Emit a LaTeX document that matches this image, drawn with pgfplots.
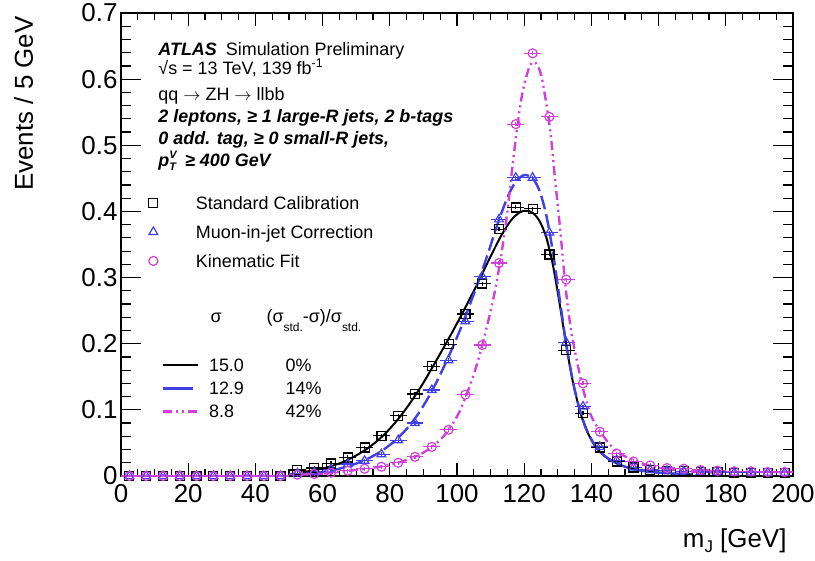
\documentclass[border=0pt]{standalone}
\usepackage{fontspec}
\setmainfont{Liberation Sans}
\usepackage{pgfplots}
\pgfplotsset{compat=1.18}
\definecolor{mblue}{rgb}{0.25,0.25,0.9}
\definecolor{mmag}{rgb}{0.82,0.25,0.85}
\pgfplotsset{
  markleg/.style={legend image code/.code={\draw[mark repeat=1,mark phase=1,##1] plot coordinates {(0bp,0bp)};}},
  lineleg/.style={legend image code/.code={\draw[##1] (0bp,0bp) -- (35bp,0bp);}},
}

\pgfplotstableread{
x y
2.5 0
7.5 0
12.5 0
17.5 0
22.5 0
27.5 0
32.5 0
37.5 0
42.5 0
47.5 0
52.5 0.009
57.5 0.012
62.5 0.019
67.5 0.028
72.5 0.043
77.5 0.061
82.5 0.091
87.5 0.124
92.5 0.166
97.5 0.199
102.5 0.245
107.5 0.291
112.5 0.373
117.5 0.406
122.5 0.404
127.5 0.335
132.5 0.190
137.5 0.095
142.5 0.043
147.5 0.022
152.5 0.013
157.5 0.009
162.5 0.008
167.5 0.007
172.5 0.006
177.5 0.006
182.5 0.005
187.5 0.005
192.5 0.005
197.5 0.005
}\stdtab

\pgfplotstableread{
x y
2.5 0
7.5 0
12.5 0
17.5 0
22.5 0
27.5 0
32.5 0
37.5 0
42.5 0
47.5 0
52.5 0.004
57.5 0.006
62.5 0.010
67.5 0.018
72.5 0.023
77.5 0.033
82.5 0.054
87.5 0.080
92.5 0.130
97.5 0.175
102.5 0.234
107.5 0.302
112.5 0.388
117.5 0.451
122.5 0.451
127.5 0.368
132.5 0.202
137.5 0.105
142.5 0.044
147.5 0.024
152.5 0.013
157.5 0.009
162.5 0.008
167.5 0.007
172.5 0.006
177.5 0.006
182.5 0.005
187.5 0.005
192.5 0.005
197.5 0.005
}\muontab

\pgfplotstableread{
x y
2.5 0
7.5 0
12.5 0
17.5 0
22.5 0
27.5 0
32.5 0
37.5 0
42.5 0
47.5 0
52.5 0.002
57.5 0.003
62.5 0.005
67.5 0.008
72.5 0.011
77.5 0.014
82.5 0.020
87.5 0.029
92.5 0.044
97.5 0.070
102.5 0.123
107.5 0.198
112.5 0.322
117.5 0.532
122.5 0.639
127.5 0.543
132.5 0.297
137.5 0.140
142.5 0.067
147.5 0.034
152.5 0.022
157.5 0.016
162.5 0.012
167.5 0.011
172.5 0.009
177.5 0.008
182.5 0.007
187.5 0.007
192.5 0.006
197.5 0.006
}\kintab

\begin{document}
\begin{tikzpicture}
\useasboundingbox (-121bp,-85bp) rectangle (694bp,476bp);
\begin{axis}[
  scale only axis, width=672bp, height=463bp,
  xmin=0, xmax=200, ymin=0, ymax=0.7,
  xtick={0,20,40,60,80,100,120,140,160,180,200},
  ytick={0,0.1,0.2,0.3,0.4,0.5,0.6,0.7},
  minor x tick num=3, minor y tick num=4,
  tick align=inside,
  axis line style={line width=1.3bp},
  every tick/.style={line width=1.2bp, black},
  xtick style={/pgfplots/major tick length=13bp,/pgfplots/minor tick length=7bp},
  ytick style={/pgfplots/major tick length=20bp,/pgfplots/minor tick length=10bp},
  tick label style={font=\fontsize{26}{26}\selectfont},
  /pgf/number format/assume math mode=true,
  xticklabel style={anchor=base, yshift=-26bp},
  xlabel={m\raisebox{-5bp}{\fontsize{17}{17}\selectfont J} [GeV]},
  ylabel={Events / 5 GeV},
  every axis x label/.style={at={(axis description cs:0.9955,-0.1555)}, anchor=base east, font=\fontsize{26}{26}\selectfont},
  every axis y label/.style={at={(axis description cs:-0.131,1.0)}, rotate=90, anchor=base east, font=\fontsize{26}{26}\selectfont},
  legend style={at={(axis cs:8.3,0.4227)}, anchor=north west, draw=none, fill=none,
    inner sep=0pt, outer sep=0pt, font=\fontsize{18}{18}\selectfont,
    row sep=16bp,
    nodes={inner sep=0pt, text height=13bp, text depth=0bp},
    /tikz/every odd column/.append style={column sep=38bp}},
  legend cell align=left,
]
\addplot[black, only marks, mark=square, mark size=4.5bp,
  mark options={solid, fill=white, line width=1.2bp}, markleg,
  error bars/.cd, x dir=both, x fixed=2.5, y dir=both, y fixed=0.003, error mark=none,
  error bar style={line width=1.2bp, black}] table[x=x,y=y] {\stdtab};
\addlegendentry{Standard Calibration}
\addplot[mblue, only marks, mark=triangle, mark size=5bp,
  mark options={solid, fill=white, line width=1.2bp}, markleg,
  error bars/.cd, x dir=both, x fixed=2.5, y dir=both, y fixed=0.003, error mark=none,
  error bar style={line width=1.2bp, mblue}] table[x=x,y=y] {\muontab};
\addlegendentry{Muon-in-jet Correction}
\addplot[mmag, only marks, mark=o, mark size=4.5bp,
  mark options={solid, fill=white, line width=1.2bp}, markleg,
  error bars/.cd, x dir=both, x fixed=2.5, y dir=both, y fixed=0.003, error mark=none,
  error bar style={line width=1.2bp, mmag}] table[x=x,y=y] {\kintab};
\addlegendentry{Kinematic Fit}

% fitted curves
\addplot[black, line width=2bp, smooth, no marks, forget plot] coordinates {
(54,0.006) (58,0.009) (62,0.014) (66,0.021) (70,0.031) (74,0.044) (78,0.061) (82,0.083)
(86,0.110) (90,0.141) (94,0.176) (98,0.212) (102,0.250) (106,0.290) (110,0.332) (113,0.362)
(116,0.386) (118.5,0.398) (120.5,0.401) (122.5,0.398) (124.5,0.386) (126.5,0.362) (128.5,0.320)
(130.5,0.262) (132.5,0.198) (134.5,0.142) (136.5,0.100) (138.5,0.070) (141,0.046) (144,0.030)
(148,0.018) (152,0.011) (157,0.0065) (163,0.004) (170,0.0025)};
\addplot[mblue, line width=2.4bp, smooth, no marks, forget plot, dash pattern=on 14bp off 5bp] coordinates {
(57,0.004) (61,0.007) (65,0.011) (69,0.017) (73,0.025) (77,0.036) (81,0.051) (85,0.071)
(89,0.098) (93,0.133) (97,0.175) (101,0.222) (105,0.275) (109,0.333) (112,0.380) (115,0.421)
(117.5,0.445) (120,0.455) (122.5,0.450) (124.5,0.432) (126.5,0.396) (128.5,0.340) (130.5,0.270)
(132.5,0.200) (134.5,0.143) (136.5,0.101) (138.5,0.071) (141,0.047) (144,0.030) (148,0.018)
(152,0.011) (157,0.0065) (163,0.004) (170,0.0025)};
\addplot[mmag, line width=2.4bp, smooth, no marks, forget plot,
  dash pattern=on 9bp off 4bp on 2bp off 4bp on 2bp off 4bp] coordinates {
(53,0.002) (58,0.003) (63,0.005) (68,0.008) (73,0.011) (78,0.015) (83,0.021) (88,0.030)
(92,0.042) (96,0.060) (100,0.090) (103,0.125) (106,0.170) (109,0.228) (111.5,0.285)
(113.5,0.345) (115,0.400) (116.5,0.468) (118,0.530) (119.5,0.580) (121.5,0.618) (123,0.626)
(124.5,0.615) (125.7,0.590) (127.7,0.524) (129.2,0.448) (130.7,0.373) (131.9,0.307)
(133,0.255) (134.1,0.216) (135.6,0.176) (137.6,0.130) (140,0.090) (143.6,0.060) (147.5,0.037)
(152.5,0.024) (157,0.016) (162,0.011) (170,0.007) (178,0.005)};

\begin{scope}[font=\fontsize{18}{18}\selectfont]
\node[anchor=base west] at (axis cs:10.1,0.6353) {{\bfseries\itshape ATLAS}\hspace{9bp}Simulation Preliminary};
\node[anchor=base west] at (axis cs:10.1,0.6076) {√s = 13 TeV, 139 fb\textsuperscript{-1}};
\node[anchor=base west] at (axis cs:10.1,0.5671) {qq $\rightarrow$ ZH $\rightarrow$ llbb};
\node[anchor=base west] at (axis cs:10.1,0.5344) {\bfseries\itshape 2 leptons, ≥ 1 large-R jets, 2 b-tags};
\node[anchor=base west] at (axis cs:10.1,0.5015) {\bfseries\itshape 0 add. tag, ≥ 0 small-R jets,};
\node[anchor=base west] at (axis cs:10.1,0.4686) {\bfseries\itshape p\rlap{\raisebox{8bp}{\fontsize{11}{11}\selectfont V}}\raisebox{-4bp}{\fontsize{11}{11}\selectfont T}\hspace{9bp}≥ 400 GeV};
\node[anchor=base west] at (axis cs:25.6,0.2318) {σ};
\node[anchor=base west] at (axis cs:42.3,0.2318) {(σ\raisebox{-9bp}{\fontsize{12}{12}\selectfont std.}-σ)/σ\raisebox{-9bp}{\fontsize{12}{12}\selectfont std.}};
\end{scope}
\end{axis}

\begin{axis}[
  scale only axis, width=672bp, height=463bp,
  xmin=0, xmax=200, ymin=0, ymax=0.7, hide axis,
  legend style={at={(axis cs:12.1,0.177)}, anchor=north west, draw=none, fill=none,
    inner sep=0pt, outer sep=0pt, font=\fontsize{18}{18}\selectfont,
    row sep=10bp,
    nodes={inner sep=0pt, text height=13bp, text depth=0bp},
    /tikz/every odd column/.append style={column sep=10bp}},
  legend cell align=left,
  lineleg,
]
\addlegendimage{black, line width=2bp}
\addlegendentry{\makebox[76.6bp][l]{15.0}0\%}
\addlegendimage{mblue, line width=2.4bp, dash pattern=on 30bp off 5bp}
\addlegendentry{\makebox[76.6bp][l]{12.9}14\%}
\addlegendimage{mmag, line width=2.4bp, dash pattern=on 9bp off 4bp on 2bp off 4bp on 2bp off 4bp}
\addlegendentry{\makebox[76.6bp][l]{8.8}42\%}
\end{axis}
\end{tikzpicture}
\end{document}
